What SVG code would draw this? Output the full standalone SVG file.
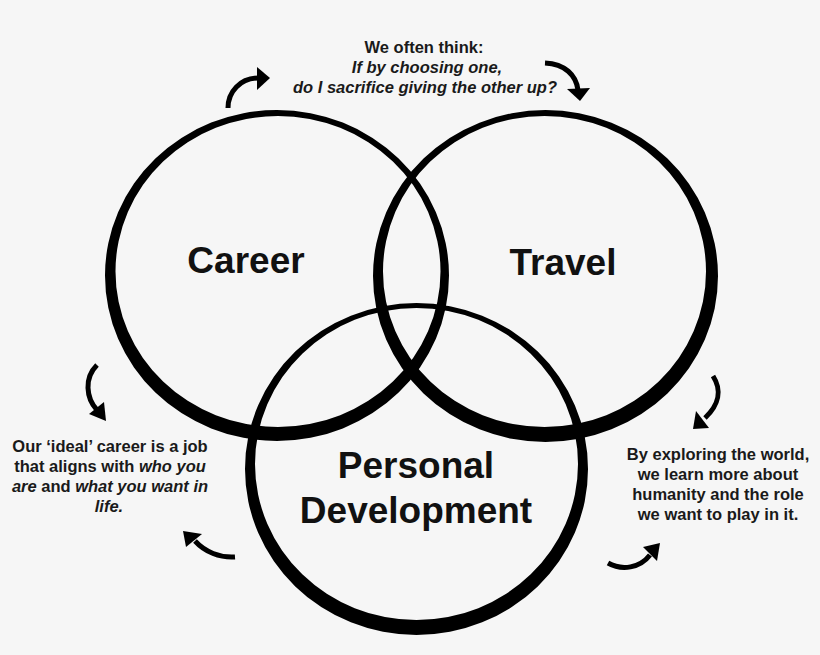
<svg xmlns="http://www.w3.org/2000/svg" width="820" height="655" viewBox="0 0 820 655">
<defs>
<style>
.ring{fill:#000;fill-rule:evenodd;stroke:none}
.lbl{font-family:"Liberation Sans",Arial,sans-serif;font-weight:bold;font-size:37px;fill:#111;text-anchor:middle}
.note{font-family:"Liberation Sans",Arial,sans-serif;font-weight:bold;font-size:16.5px;fill:#1a1a1a;text-anchor:middle}
.it{font-style:italic}
.shaft{fill:none;stroke:#000;stroke-width:5;stroke-linecap:butt}
.head{fill:#000;stroke:none}
</style>
</defs>
<rect width="820" height="655" fill="#f6f6f6"/>
<g id="career">
<path class="ring" d="M105,275.5 a172,165.5 0 1,0 344,0 a172,165.5 0 1,0 -344,0 Z M115.5,271.5 a162.5,155.5 0 1,0 325,0 a162.5,155.5 0 1,0 -325,0 Z"/>
<text class="lbl" x="246" y="273">Career</text>
</g>
<g id="travel">
<path class="ring" d="M373,276 a172.5,166 0 1,0 345,0 a172.5,166 0 1,0 -345,0 Z M383,271.5 a161.5,155.5 0 1,0 323,0 a161.5,155.5 0 1,0 -323,0 Z"/>
<text class="lbl" x="563" y="275">Travel</text>
</g>
<g id="personal-development">
<path class="ring" d="M245,469 a171.5,166 0 1,0 343,0 a171.5,166 0 1,0 -343,0 Z M255,464 a161.5,156 0 1,0 323,0 a161.5,156 0 1,0 -323,0 Z"/>
<text class="lbl" x="416" y="478">Personal</text>
<text class="lbl" x="416" y="523">Development</text>
</g>
<g id="top-note">
<text class="note" x="424" y="53">We often think:</text>
<text class="note it" x="427" y="73">If by choosing one,</text>
<text class="note it" x="425" y="93">do I sacrifice giving the other up?</text>
</g>
<g id="left-note">
<text class="note" x="110" y="452">Our ‘ideal’ career is a job</text>
<text class="note" x="110" y="472">that aligns with <tspan class="it">who you</tspan></text>
<text class="note" x="110" y="492"><tspan class="it">are</tspan> and <tspan class="it">what you want in</tspan></text>
<text class="note it" x="109" y="512">life.</text>
</g>
<g id="right-note">
<text class="note" x="718" y="460">By exploring the world,</text>
<text class="note" x="718" y="480">we learn more about</text>
<text class="note" x="718" y="500">humanity and the role</text>
<text class="note" x="718" y="520">we want to play in it.</text>
</g>
<g id="connectors">
<path class="shaft" d="M228,108 C228,92 240,78 259,78"/>
<polygon class="head" points="257,67 270,78 257,90"/>
<path class="shaft" d="M545,63 C565,64 576,75 578,90"/>
<polygon class="head" points="567,89 590,88 580,101"/>
<path class="shaft" d="M97,365 C84,378 86,398 97,410"/>
<polygon class="head" points="89,414 104,402 106,421"/>
<path class="shaft" d="M235,557 C220,558 205,552 195,541"/>
<polygon class="head" points="183,531 202,534 186,547"/>
<path class="shaft" d="M713,376 C722,390 719,405 705,418"/>
<polygon class="head" points="696,411 709,428 693,429"/>
<path class="shaft" d="M608,563 C622,571 640,568 650,555"/>
<polygon class="head" points="643,547 660,543 657,561"/>
</g>
</svg>
